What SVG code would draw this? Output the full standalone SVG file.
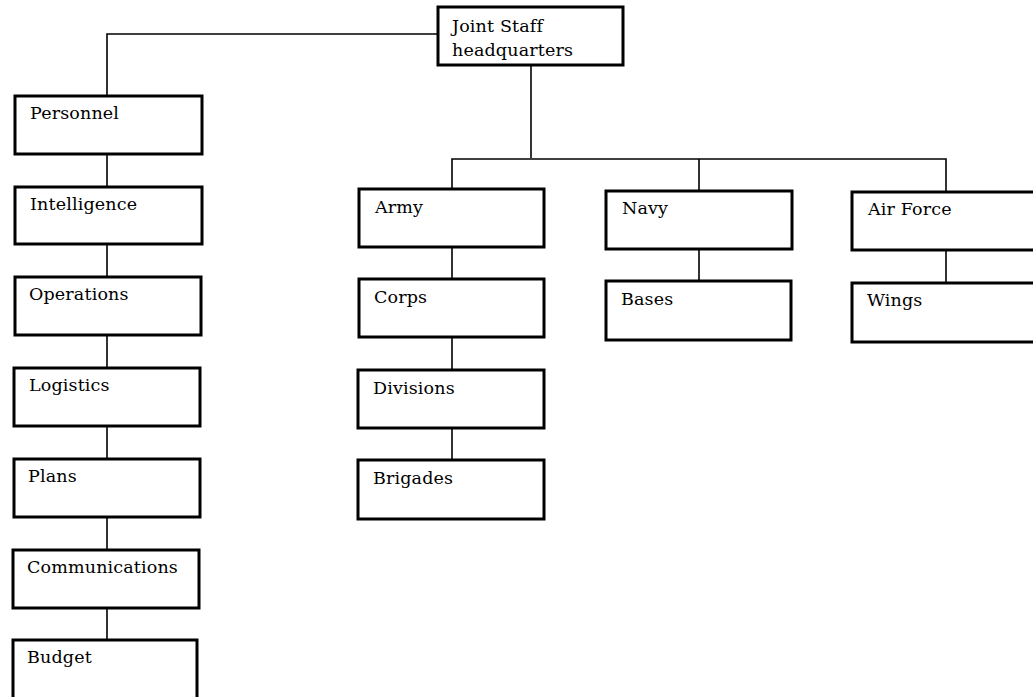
<svg xmlns="http://www.w3.org/2000/svg" width="1033" height="697" viewBox="0 0 1033 697">
<style>
.box{fill:#fff;stroke:#000;stroke-width:3}
.lbl{font-family:"DejaVu Serif","Liberation Serif",serif;font-size:17.5px;letter-spacing:0.15px;fill:#000}
.con{fill:none;stroke:#000;stroke-width:1.6}
</style>
<rect width="1033" height="697" fill="#fff"/>
<g id="connectors">
<path class="con" d="M438,34 H107 V96"/>
<path class="con" d="M107,154 V187 M107,245 V277 M107,335 V368 M107,426 V459 M107,517 V550 M107,608 V640"/>
<path class="con" d="M531,65 V158"/>
<path class="con" d="M452,189 V159 H946 V192 M699,159 V191"/>
<path class="con" d="M452,247 V279 M452,337 V370 M452,428 V460"/>
<path class="con" d="M699,249 V281 M946,250 V283"/>
</g>
<g id="n-jsh"><rect class="box" x="438" y="7" width="185" height="58"/><text class="lbl" x="452" y="32">Joint Staff</text><text class="lbl" x="452" y="56">headquarters</text></g>
<g id="n-personnel"><rect class="box" x="15" y="96" width="187" height="58"/><text class="lbl" x="30" y="119">Personnel</text></g>
<g id="n-intelligence"><rect class="box" x="15" y="187" width="187" height="57"/><text class="lbl" x="30" y="210">Intelligence</text></g>
<g id="n-operations"><rect class="box" x="15" y="277" width="186" height="58"/><text class="lbl" x="29" y="300">Operations</text></g>
<g id="n-logistics"><rect class="box" x="14" y="368" width="186" height="58"/><text class="lbl" x="29" y="391">Logistics</text></g>
<g id="n-plans"><rect class="box" x="14" y="459" width="186" height="58"/><text class="lbl" x="28" y="482">Plans</text></g>
<g id="n-communications"><rect class="box" x="13" y="550" width="186" height="58"/><text class="lbl" x="27" y="573">Communications</text></g>
<g id="n-budget"><rect class="box" x="13" y="640" width="184" height="70"/><text class="lbl" x="27" y="663">Budget</text></g>
<g id="n-army"><rect class="box" x="359" y="189" width="185" height="58"/><text class="lbl" x="375" y="213">Army</text></g>
<g id="n-corps"><rect class="box" x="359" y="279" width="185" height="58"/><text class="lbl" x="374" y="303">Corps</text></g>
<g id="n-divisions"><rect class="box" x="358" y="370" width="186" height="58"/><text class="lbl" x="373" y="394">Divisions</text></g>
<g id="n-brigades"><rect class="box" x="358" y="460" width="186" height="59"/><text class="lbl" x="373" y="484">Brigades</text></g>
<g id="n-navy"><rect class="box" x="606" y="191" width="186" height="58"/><text class="lbl" x="622" y="214">Navy</text></g>
<g id="n-bases"><rect class="box" x="606" y="281" width="185" height="59"/><text class="lbl" x="621" y="305">Bases</text></g>
<g id="n-airforce"><rect class="box" x="852" y="192" width="190" height="58"/><text class="lbl" x="868" y="215">Air Force</text></g>
<g id="n-wings"><rect class="box" x="852" y="283" width="190" height="59"/><text class="lbl" x="867" y="306">Wings</text></g>
</svg>
